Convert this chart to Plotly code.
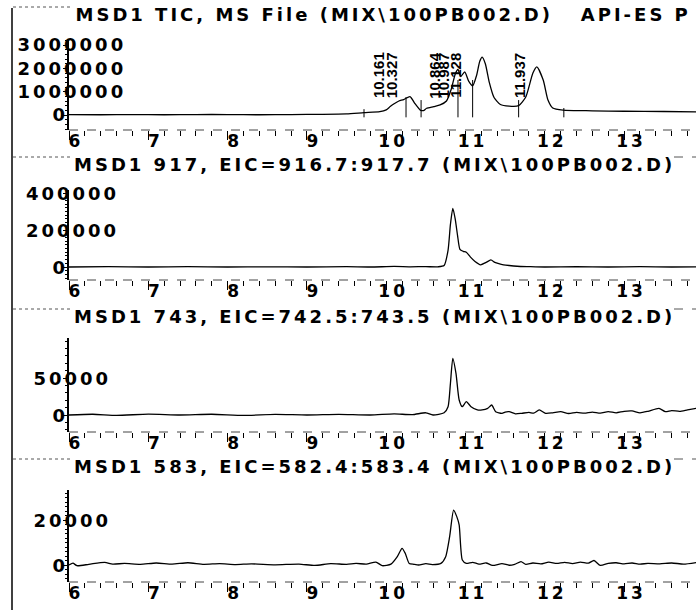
import plotly.graph_objects as go

W, H = 696, 610
FONT = "DejaVu Sans"
PEAKFONT = "Liberation Sans"

# ---------------- data ----------------
x_ticks = [6, 7, 8, 9, 10, 11, 12, 13]
x_tick_labels = ["6", "7", "8", "9", "10", "11", "12", "13"]

titles = [
    "MSD1 TIC, MS File (MIX\\100PB002.D)   API-ES P",
    "MSD1 917, EIC=916.7:917.7 (MIX\\100PB002.D)",
    "MSD1 743, EIC=742.5:743.5 (MIX\\100PB002.D)",
    "MSD1 583, EIC=582.4:583.4 (MIX\\100PB002.D)",
]

tic_ticks = [0, 1000000, 2000000, 3000000]
tic_labels = ["0", "1000000", "2000000", "3000000"]
tic_t = [6.0, 6.4, 6.8, 7.2, 7.6, 8.0, 8.4, 8.8, 9.2, 9.5, 9.72, 9.92, 10.0, 10.05,
         10.1, 10.16, 10.22, 10.3, 10.36, 10.43, 10.47, 10.51, 10.6, 10.68, 10.76,
         10.82, 10.87, 10.905, 10.94, 10.99, 11.04, 11.09, 11.14, 11.18, 11.21, 11.25,
         11.3, 11.36, 11.44, 11.55, 11.67, 11.76, 11.85, 11.9, 11.98, 12.04, 12.1,
         12.23, 12.6, 13.0, 13.5, 13.91]
tic_v = [20000, 10000, 20000, 10000, 20000, 20000, 10000, 20000, 30000, 50000,
         100000, 140000, 220000, 360000, 480000, 600000, 660000, 790000, 500000,
         210000, 190000, 290000, 360000, 430000, 600000, 1100000, 1750000, 1950000,
         1650000, 1850000, 1450000, 1250000, 1700000, 2300000, 2480000, 2200000,
         1400000, 750000, 450000, 380000, 400000, 770000, 1800000, 2060000, 1500000,
         640000, 300000, 210000, 180000, 160000, 150000, 130000]

peak_rt = [10.161, 10.327, 10.864, 10.987, 11.128, 11.937]
peak_labels = ["10.161", "10.327", "10.864", "10.987", "11.128", "11.937"]
marker_t = [9.72, 10.25, 10.44, 10.905, 11.09, 11.67, 12.24]
marker_top = [250000, 770000, 640000, 1500000, 1500000, 640000, 300000]

e917_ticks = [0, 200000, 400000]
e917_labels = ["0", "200000", "400000"]
e917_t = [6.0, 6.5, 7.0, 7.5, 8.0, 8.5, 9.0, 9.5, 9.8, 10.1, 10.3, 10.5, 10.65, 10.73,
          10.78, 10.81, 10.84, 10.87, 10.9, 10.93, 10.97, 11.01, 11.06, 11.12, 11.19,
          11.26, 11.32, 11.37, 11.42, 11.48, 11.55, 11.65, 11.8, 12.0, 12.4, 12.8,
          13.2, 13.6, 13.91]
e917_v = [0, 2000, 0, 1500, 0, 1000, 0, 1500, 0, 3000, 1000, 2000, 1000, 8000,
          90000, 230000, 317000, 260000, 170000, 95000, 85000, 80000, 55000, 30000,
          12000, 25000, 38000, 25000, 18000, 12000, 8000, 4000, 2000, 0, 2000, 0,
          1500, 0, 1000]

e743_ticks = [0, 50000]
e743_labels = ["0", "50000"]
e743_t = [6.0, 6.3, 6.6, 7.0, 7.4, 7.8, 8.2, 8.6, 9.0, 9.4, 9.8, 10.1, 10.33, 10.5,
          10.59, 10.73, 10.78, 10.81, 10.84, 10.88, 10.92, 10.96, 11.01, 11.07, 11.15,
          11.21, 11.28, 11.33, 11.38, 11.46, 11.5, 11.55, 11.63, 11.71, 11.8, 11.86,
          11.93, 12.01, 12.1, 12.2, 12.3, 12.4, 12.5, 12.6, 12.7, 12.8, 12.9, 13.0,
          13.1, 13.2, 13.3, 13.44, 13.52, 13.6, 13.7, 13.8, 13.91]
e743_v = [0, 1000, -500, 1200, 0, 1000, -500, 800, 0, 800, 0, 1500, 500, 3000, 0,
          3000, 11200, 42800, 76600, 56300, 20300, 11200, 18000, 11200, 6800, 6800,
          9000, 13500, 4500, 2300, 4000, 4500, 1500, 2300, 3500, 2500, 6800, 2300,
          3000, 4500, 2000, 3500, 2500, 4000, 2500, 4500, 3000, 5000, 5500, 3000,
          5000, 9000, 4500, 6000, 5000, 7000, 9000]

e583_ticks = [0, 20000]
e583_labels = ["0", "20000"]
e583_t = [6.0, 6.05, 6.1, 6.25, 6.45, 6.55, 6.7, 6.9, 7.1, 7.3, 7.5, 7.7, 7.9, 8.1,
          8.3, 8.6, 8.9, 9.1, 9.3, 9.5, 9.62, 9.75, 9.87, 9.95, 10.06, 10.14, 10.2,
          10.24, 10.29, 10.35, 10.41, 10.5, 10.58, 10.69, 10.75, 10.8, 10.85, 10.89,
          10.92, 10.96, 11.01, 11.09, 11.17, 11.26, 11.34, 11.46, 11.55, 11.62, 11.7,
          11.76, 11.85, 11.95, 12.05, 12.15, 12.25, 12.35, 12.45, 12.55, 12.62, 12.7,
          12.8, 12.9, 13.0, 13.1, 13.2, 13.3, 13.45, 13.6, 13.75, 13.91]
e583_v = [0, 800, -300, 300, 1200, 400, 700, 300, 900, 400, 1000, 300, 600, 200,
          500, 100, 400, -200, 600, 300, 700, 400, 1300, -300, 400, 3700, 7400, 5200,
          700, 300, 0, 600, 200, 700, 3700, 12600, 24400, 21500, 17800, 2200, 700,
          1200, 400, 900, -200, 600, -100, 300, 1500, 300, 900, 500, 1300, 700, 1200,
          600, 1300, 800, 2000, -200, 700, 1000, 500, 900, 400, 700, 500, 900, 400,
          1100]

# ---------------- layout geometry (pixels) ----------------
X_AXIS_PX = 69
PX_PER_MIN = 79.3
XMAX = 6 + (W - X_AXIS_PX) / PX_PER_MIN
FS = 18
TFS = 17

# (top px, bottom px, zero px, ref px, ref value, title y px, title centre x px)
panels = [
    dict(top=40, bottom=130, zero=115, refpx=45, refval=3000000, ty=14, tx=383),
    dict(top=190, bottom=280, zero=267, refpx=193, refval=400000, ty=164, tx=374),
    dict(top=338, bottom=432, zero=415, refpx=378, refval=50000, ty=316, tx=374),
    dict(top=490, bottom=582, zero=565, refpx=520, refval=20000, ty=466, tx=374),
]
series = [(tic_t, tic_v, tic_ticks, tic_labels),
          (e917_t, e917_v, e917_ticks, e917_labels),
          (e743_t, e743_v, e743_ticks, e743_labels),
          (e583_t, e583_v, e583_ticks, e583_labels)]


def py(p):
    return 1 - p / H


def px_(p):
    return p / W


fig = go.Figure()
annotations = []
shapes = []
layout = dict(width=W, height=H, margin=dict(l=0, r=0, t=0, b=0),
              paper_bgcolor="white", plot_bgcolor="white", showlegend=False,
              font=dict(family=FONT, size=FS, color="black", weight="bold"))

for i, (pan, (ts, vs, ytv, ytl)) in enumerate(zip(panels, series)):
    n = i + 1
    sfx = "" if n == 1 else str(n)
    per_px = pan["refval"] / (pan["zero"] - pan["refpx"])
    ymin = -(pan["bottom"] - pan["zero"]) * per_px
    ymax = (pan["zero"] - pan["top"]) * per_px
    layout["xaxis" + sfx] = dict(
        domain=[px_(X_AXIS_PX), 1], range=[6, XMAX], anchor="y" + sfx,
        tickvals=x_ticks, ticktext=x_tick_labels, ticks="outside", ticklen=9,
        tickwidth=1, tickcolor="black", showline=False, showgrid=False,
        zeroline=False,
        tickfont=dict(family=FONT, size=TFS, color="black", weight="bold"),
        ticklabelshift=7, ticklabelstandoff=-13,
        minor=dict(dtick=0.2, tick0=6, ticks="outside", ticklen=5,
                   tickcolor="black", tickwidth=1, showgrid=False))
    layout["yaxis" + sfx] = dict(
        domain=[py(pan["bottom"]), py(pan["top"])], range=[ymin, ymax],
        anchor="x" + sfx, showline=True, linecolor="black", linewidth=1.5,
        ticks="outside", ticklen=4, tickcolor="black", tickvals=ytv,
        showticklabels=False, showgrid=False, zeroline=False,
        minor=dict(ticks="outside", ticklen=2, tickcolor="black", nticks=5))
    fig.add_trace(go.Scatter(x=ts, y=vs, mode="lines", xaxis="x" + sfx,
                             yaxis="y" + sfx, line=dict(color="black", width=1.3,
                                                        shape="spline", smoothing=0.6),
                             hoverinfo="skip"))
    # dashed x-axis baseline
    shapes.append(dict(type="line", xref="x%s domain" % sfx, yref="y%s domain" % sfx,
                       x0=0, x1=1, y0=0, y1=0,
                       line=dict(color="#444", width=1, dash="dash")))
    # y tick labels
    for v, lab in zip(ytv, ytl):
        annotations.append(dict(
            text=lab, xref="paper", yref="y" + sfx, x=px_(60 if v == 0 else 72),
            y=v, xanchor="center", yanchor="middle", showarrow=False,
            font=dict(family=FONT, size=FS, color="black", weight="bold")))
    # panel title
    annotations.append(dict(
        text=titles[i], xref="paper", yref="paper", x=px_(pan["tx"]),
        y=py(pan["ty"]), xanchor="center", yanchor="middle", showarrow=False,
        font=dict(family=FONT, size=FS, color="black", weight="bold")))
    # separator line left of the title
    shapes.append(dict(type="line", xref="paper", yref="paper", x0=px_(13),
                       x1=px_(72), y0=py(pan["ty"] - 7), y1=py(pan["ty"] - 7),
                       line=dict(color="#555", width=1, dash="dot")))
    if i > 0:
        shapes.append(dict(type="line", xref="paper", yref="paper", x0=px_(674),
                           x1=1, y0=py(pan["ty"] - 7), y1=py(pan["ty"] - 7),
                           line=dict(color="#555", width=1, dash="dash")))

# integration marker lines on the TIC
mx, my = [], []
for t, top in zip(marker_t, marker_top):
    mx += [t, t, None]
    my += [-100000, top, None]
fig.add_trace(go.Scatter(x=mx, y=my, mode="lines", xaxis="x", yaxis="y",
                         line=dict(color="black", width=1), hoverinfo="skip"))

# retention time labels
for rt, lab in zip(peak_rt, peak_labels):
    annotations.append(dict(
        text=lab, xref="x", yref="y", x=rt, y=1710000, xshift=-21, textangle=-90,
        xanchor="center", yanchor="middle", showarrow=False,
        font=dict(family=PEAKFONT, size=15, color="black")))

# left border
shapes.append(dict(type="line", xref="paper", yref="paper", x0=px_(12), x1=px_(12),
                   y0=py(8), y1=0, line=dict(color="black", width=1.5)))

layout["annotations"] = annotations
layout["shapes"] = shapes
fig.update_layout(**layout)

post = ("var s=document.createElement('style');"
        "s.textContent='html,body{margin:0;padding:0;overflow:hidden;}"
        "svg text[style*=\"DejaVu\"]{letter-spacing:3px !important;}';"
        "document.head.appendChild(s);")
fig.write_html("out.html", post_script=post, config={"displayModeBar": False})
